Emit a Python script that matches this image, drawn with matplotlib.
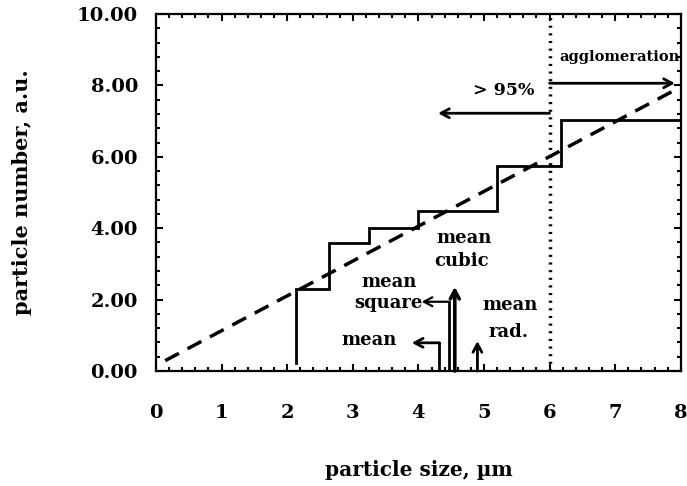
import matplotlib
matplotlib.use("Agg")
import matplotlib.pyplot as plt
from matplotlib.ticker import MultipleLocator, FormatStrFormatter

# step histogram (edges / levels)
step_x = [2.13, 2.13, 2.64, 2.64, 3.25, 3.25, 3.99, 3.99, 5.20, 5.20, 6.17, 6.17, 8.00]
step_y = [0.22, 2.29, 2.29, 3.58, 3.58, 4.01, 4.01, 4.48, 4.48, 5.74, 5.74, 7.03, 7.03]

# dashed fit line end points
fit_x = [0.14, 7.91]
fit_y = [0.29, 7.87]

cut_x = 6.0  # >95 % boundary

# mean values (position, height of marker)
mean_x, mean_h, mean_tip = 4.32, 0.79, 3.90
square_x, square_h, square_tip = 4.46, 1.94, 4.05
cubic_x, cubic_h = 4.555, 2.36
rad_x, rad_h = 4.90, 0.84

FONT = "DejaVu Serif"

fig = plt.figure(figsize=(6.87, 4.86), dpi=100)
ax = fig.add_axes([0.227, 0.2366, 0.764, 0.7346])

ax.plot(step_x, step_y, color="black", lw=2.0, solid_joinstyle="miter")
ax.plot(fit_x, fit_y, color="black", lw=2.5, dashes=(4.5, 2.8))
ax.axvline(cut_x, color="black", lw=2.5, ls=(0, (0.6, 1.6)))

arrow = dict(arrowstyle="->,head_length=0.6,head_width=0.32", color="black", lw=2.0,
             shrinkA=0, shrinkB=0)

# region arrows
ax.annotate("", xy=(7.91, 8.06), xytext=(cut_x, 8.06), arrowprops=arrow)
ax.annotate("", xy=(4.30, 7.22), xytext=(cut_x, 7.22), arrowprops=arrow)
ax.text(7.06, 8.8, "agglomeration", fontsize=10.5, family=FONT, fontweight="bold",
        ha="center", va="center")
ax.text(5.30, 7.87, "> 95%", fontsize=12.5, family=FONT, fontweight="bold",
        ha="center", va="center")

# mean markers
ax.plot([mean_x, mean_x], [0, mean_h], color="black", lw=2.0)
ax.annotate("", xy=(mean_tip, mean_h), xytext=(mean_x, mean_h), arrowprops=arrow)
ax.plot([square_x, square_x], [0, square_h], color="black", lw=2.0)
ax.annotate("", xy=(square_tip, square_h), xytext=(square_x, square_h),
            arrowprops=dict(arrow, lw=1.6))
ax.annotate("", xy=(cubic_x, cubic_h), xytext=(cubic_x, 0), arrowprops=dict(arrow, lw=2.6))
ax.annotate("", xy=(rad_x, rad_h), xytext=(rad_x, 0), arrowprops=arrow)

lab = dict(fontsize=13, family=FONT, fontweight="bold", ha="center", va="center")
ax.text(4.69, 3.72, "mean", **lab)
ax.text(4.66, 3.07, "cubic", **lab)
ax.text(3.55, 2.50, "mean", **lab)
ax.text(3.55, 1.90, "square", **lab)
ax.text(3.25, 0.86, "mean", **lab)
ax.text(5.40, 1.85, "mean", **lab)
ax.text(5.37, 1.10, "rad.", **lab)

ax.set_xlim(0, 8)
ax.set_ylim(0, 10)
ax.xaxis.set_major_locator(MultipleLocator(1))
ax.xaxis.set_minor_locator(MultipleLocator(0.2))
ax.yaxis.set_major_locator(MultipleLocator(2))
ax.yaxis.set_minor_locator(MultipleLocator(0.4))
ax.yaxis.set_major_formatter(FormatStrFormatter("%.2f"))
ax.tick_params(which="both", direction="in", top=True, right=True, width=1.5)
ax.tick_params(which="major", length=5)
ax.tick_params(which="minor", length=3)
ax.tick_params(axis="x", which="major", pad=24)
ax.tick_params(axis="y", which="major", pad=13)
for t in ax.get_xticklabels() + ax.get_yticklabels():
    t.set_fontfamily(FONT)
    t.set_fontweight("bold")
    t.set_fontsize(14)
for s in ax.spines.values():
    s.set_linewidth(1.6)

ax.set_xlabel("particle size, µm", family=FONT, fontweight="bold", fontsize=14.5, labelpad=27)
ax.set_ylabel("particle number, a.u.", family=FONT, fontweight="bold", fontsize=15, labelpad=32)

fig.savefig("out.png", dpi=100)
